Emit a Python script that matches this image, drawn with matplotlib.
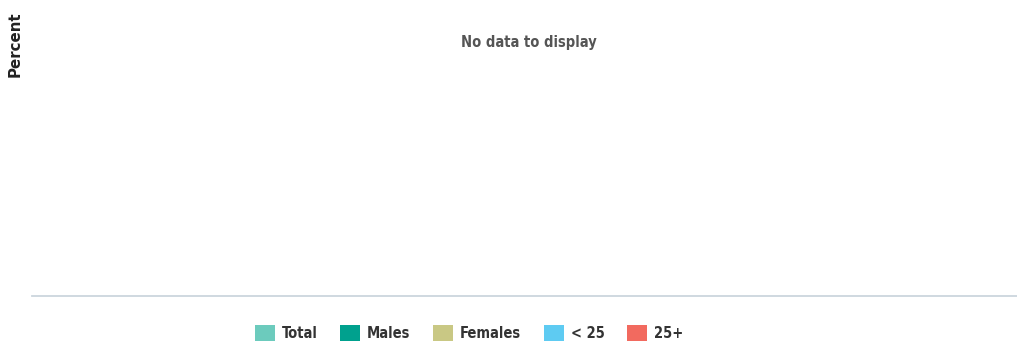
import matplotlib
matplotlib.use("Agg")
import matplotlib.pyplot as plt
from matplotlib.patches import Patch

# series shown in the legend (no values available)
series = ["Total", "Males", "Females", "< 25", "25+"]
colors = ["#6ccbbd", "#00a18e", "#c9c884", "#5ecbf2", "#f26a5f"]

plt.rcParams["font.family"] = ["DejaVu Sans"]
plt.rcParams["font.stretch"] = "condensed"

fig = plt.figure(figsize=(10.17, 3.47), dpi=100)
ax = fig.add_axes([32 / 1017, 1 - 296 / 347, 985 / 1017, 290 / 347])

ax.set_xlim(0, 1)
ax.set_ylim(0, 1)
ax.set_xticks([])
ax.set_yticks([])
for side in ["top", "right", "left"]:
    ax.spines[side].set_visible(False)
ax.spines["bottom"].set_color("#ccd6dd")
ax.spines["bottom"].set_linewidth(1.3)

ax.text(0.504, 0.875, "No data to display", transform=ax.transAxes,
        ha="center", va="center", fontsize=10.5, fontweight="bold", color="#555555")

fig.text(15 / 1017, 1 - 44 / 347, "Percent", rotation=90, ha="center", va="center",
         fontsize=10.8, fontweight="bold", fontstretch="normal", color="#222222")

handles = [Patch(facecolor=c, edgecolor="none") for c in colors]
fig.legend(handles, series, loc="center", bbox_to_anchor=(469 / 1017, 1 - 333 / 347),
           ncol=5, frameon=False, handlelength=1.37, handleheight=1.4,
           handletextpad=0.48, columnspacing=1.55,
           prop={"size": 10.5, "weight": "bold"}, labelcolor="#333333")

fig.savefig("out.png", dpi=100)
